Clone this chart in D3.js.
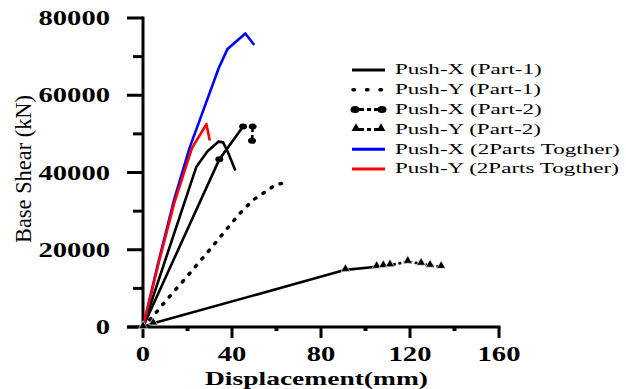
<!DOCTYPE html>
<html>
<head>
<meta charset="utf-8">
<script src="https://cdnjs.cloudflare.com/ajax/libs/d3/7.8.5/d3.min.js"></script>
<style>
  body { margin: 0; background: #fff; }
  svg { display: block; }
  text { font-family: "Liberation Serif", "Times New Roman", serif; fill: #000; }
</style>
</head>
<body>
<svg id="chart" width="626" height="389"></svg>
<script>
// displacement (mm), base shear (kN)
const pushX1 = [[0, 0], [24, 41500], [29, 45500], [34, 48000], [36, 47800], [38, 45500], [41.5, 40500]];
const pushY1 = [[0, 0], [4.4, 2700], [10, 6600], [20, 13200], [30, 20000], [38, 25600], [42, 28400], [46, 30900], [50, 33100], [55, 35000], [60, 37000], [66, 37400]];
const pushX2 = [[0, 0], [34.3, 43400], [45, 51900], [49.3, 51900], [49, 48200]];
const pushY2 = [[0, 0], [4.6, 950], [91, 14800], [105, 15600], [108, 15800], [111, 16000], [119, 16900], [125, 16400], [129, 15900], [134, 15600]];
const pushXBoth = [[0, 0], [7, 17000], [14, 33000], [21, 46500], [28, 57500], [34, 67000], [38, 72000], [46, 76000], [50, 73000]];
const pushYBoth = [[0, 0], [7, 16500], [14, 32000], [22, 46300], [28.5, 52500], [30, 48300]];

const xTicks = [0, 40, 80, 120, 160];
const xMinor = [20, 60, 100, 140];
const yTicks = [0, 20000, 40000, 60000, 80000];
const yMinor = [10000, 30000, 50000, 70000];
const legendLabels = ["Push-X (Part-1)", "Push-Y (Part-1)", "Push-X (Part-2)", "Push-Y (Part-2)", "Push-X (2Parts Togther)", "Push-Y (2Parts Togther)"];

const svg = d3.select("#chart");
const xs = d3.scaleLinear().domain([0, 160]).range([143, 499]);
const ys = d3.scaleLinear().domain([0, 80000]).range([327, 18]);
const line = d3.line().x(d => xs(d[0])).y(d => ys(d[1]));

// axes (drawn by hand to get the thick ticks of the original)
const ax = svg.append("g").attr("stroke", "#000").attr("stroke-width", 3);
ax.append("line").attr("x1", xs(0)).attr("x2", xs(0)).attr("y1", ys(80000) - 1.5).attr("y2", ys(0) + 1.5);
ax.append("line").attr("x1", xs(0) - 16).attr("x2", xs(160) + 1.5).attr("y1", ys(0)).attr("y2", ys(0));
ax.selectAll(".yt").data(yTicks).enter().append("line")
  .attr("x1", xs(0) - 16).attr("x2", xs(0)).attr("y1", d => ys(d)).attr("y2", d => ys(d));
ax.selectAll(".ym").data(yMinor).enter().append("line")
  .attr("x1", xs(0) - 10).attr("x2", xs(0)).attr("y1", d => ys(d)).attr("y2", d => ys(d));
ax.selectAll(".xt").data(xTicks).enter().append("line")
  .attr("x1", d => xs(d)).attr("x2", d => xs(d)).attr("y1", ys(0)).attr("y2", ys(0) + 11);
ax.selectAll(".xm").data(xMinor).enter().append("line")
  .attr("stroke-width", 4)
  .attr("x1", d => xs(d)).attr("x2", d => xs(d)).attr("y1", ys(0)).attr("y2", ys(0) + 4);

svg.append("g").selectAll("text").data(yTicks).enter().append("text")
  .attr("x", 110).attr("y", d => ys(d) + 7)
  .attr("text-anchor", "end").attr("font-size", 20).attr("font-weight", "bold")
  .attr("textLength", d => String(d).length * 14.3).attr("lengthAdjust", "spacingAndGlyphs")
  .text(d => d);
svg.append("g").selectAll("text").data(xTicks).enter().append("text")
  .attr("x", d => xs(d)).attr("y", 361)
  .attr("text-anchor", "middle").attr("font-size", 20).attr("font-weight", "bold")
  .attr("textLength", d => String(d).length * 14.3).attr("lengthAdjust", "spacingAndGlyphs")
  .text(d => d);

svg.append("text").attr("x", 205).attr("y", 385)
  .attr("font-size", 19).attr("font-weight", "bold")
  .attr("textLength", 223).attr("lengthAdjust", "spacingAndGlyphs")
  .text("Displacement(mm)");
svg.append("text").attr("transform", "translate(31,243) rotate(-90)")
  .attr("font-size", 23)
  .attr("textLength", 148).attr("lengthAdjust", "spacingAndGlyphs")
  .text("Base Shear (kN)");

// series
const plot = svg.append("g").attr("fill", "none").attr("stroke-width", 2.6).attr("stroke-linejoin", "round");
plot.append("path").attr("d", line(pushY1)).attr("stroke", "#000")
  .attr("stroke-width", 3.5).attr("stroke-linecap", "round").attr("stroke-dasharray", "1.5,8.5");
plot.append("path").attr("d", line(pushY2.slice(0, 4))).attr("stroke", "#000");
plot.append("path").attr("d", line(pushY2.slice(3))).attr("stroke", "#000").attr("stroke-dasharray", "3,2.5");
plot.append("path").attr("d", line(pushX2.slice(0, 3))).attr("stroke", "#000");
plot.append("path").attr("d", line(pushX2.slice(2))).attr("stroke", "#000").attr("stroke-dasharray", "3,3");
plot.append("path").attr("d", line(pushX1)).attr("stroke", "#000");
plot.append("path").attr("d", line(pushXBoth)).attr("stroke", "#0000ff");
plot.append("path").attr("d", line(pushYBoth)).attr("stroke", "#ff0000");

const tri = d3.symbol().type(d3.symbolTriangle).size(34);
svg.append("g").selectAll("path").data(pushY2).enter().append("path")
  .attr("d", tri).attr("transform", d => `translate(${xs(d[0])},${ys(d[1]) - 1})`)
  .attr("fill", "#000").attr("stroke", "#fff").attr("stroke-width", 0.6);
svg.append("g").selectAll("ellipse").data(pushX2.slice(1)).enter().append("ellipse")
  .attr("cx", d => xs(d[0])).attr("cy", d => ys(d[1]))
  .attr("rx", 4).attr("ry", 3).attr("fill", "#000");

// legend
const lg = svg.append("g");
const rowY = i => 70 + i * 19.8;
const sample = lg.append("g").attr("fill", "none").attr("stroke-width", 3);
sample.append("line").attr("x1", 352).attr("x2", 385).attr("y1", rowY(0)).attr("y2", rowY(0)).attr("stroke", "#000");
sample.append("line").attr("x1", 353).attr("x2", 385).attr("y1", rowY(1)).attr("y2", rowY(1)).attr("stroke", "#000")
  .attr("stroke-width", 3.5).attr("stroke-linecap", "round").attr("stroke-dasharray", "1.5,12");
sample.append("line").attr("x1", 355).attr("x2", 382).attr("y1", rowY(2)).attr("y2", rowY(2)).attr("stroke", "#000")
  .attr("stroke-dasharray", "9,3,4,3,9");
sample.append("line").attr("x1", 355).attr("x2", 382).attr("y1", rowY(3)).attr("y2", rowY(3)).attr("stroke", "#000")
  .attr("stroke-dasharray", "9,3,4,3,9");
sample.append("line").attr("x1", 352).attr("x2", 385).attr("y1", rowY(4)).attr("y2", rowY(4)).attr("stroke", "#0000ff");
sample.append("line").attr("x1", 352).attr("x2", 385).attr("y1", rowY(5)).attr("y2", rowY(5)).attr("stroke", "#ff0000");
lg.selectAll("ellipse").data([355, 382]).enter().append("ellipse")
  .attr("cx", d => d).attr("cy", rowY(2)).attr("rx", 4.5).attr("ry", 3.5).attr("fill", "#000");
lg.selectAll(".lt").data([356, 381]).enter().append("path")
  .attr("d", tri).attr("transform", d => `translate(${d},${rowY(3) - 1})`).attr("fill", "#000");

const labels = lg.selectAll("text").data(legendLabels).enter().append("text")
  .attr("font-size", 15).attr("dominant-baseline", "middle")
  .text(d => d);
const widest = d3.max(labels.nodes(), n => n.getComputedTextLength());
const sx = 225 / widest;
labels.attr("transform", (d, i) => `translate(395,${rowY(i) + 1}) scale(${sx},1)`);
</script>
</body>
</html>
